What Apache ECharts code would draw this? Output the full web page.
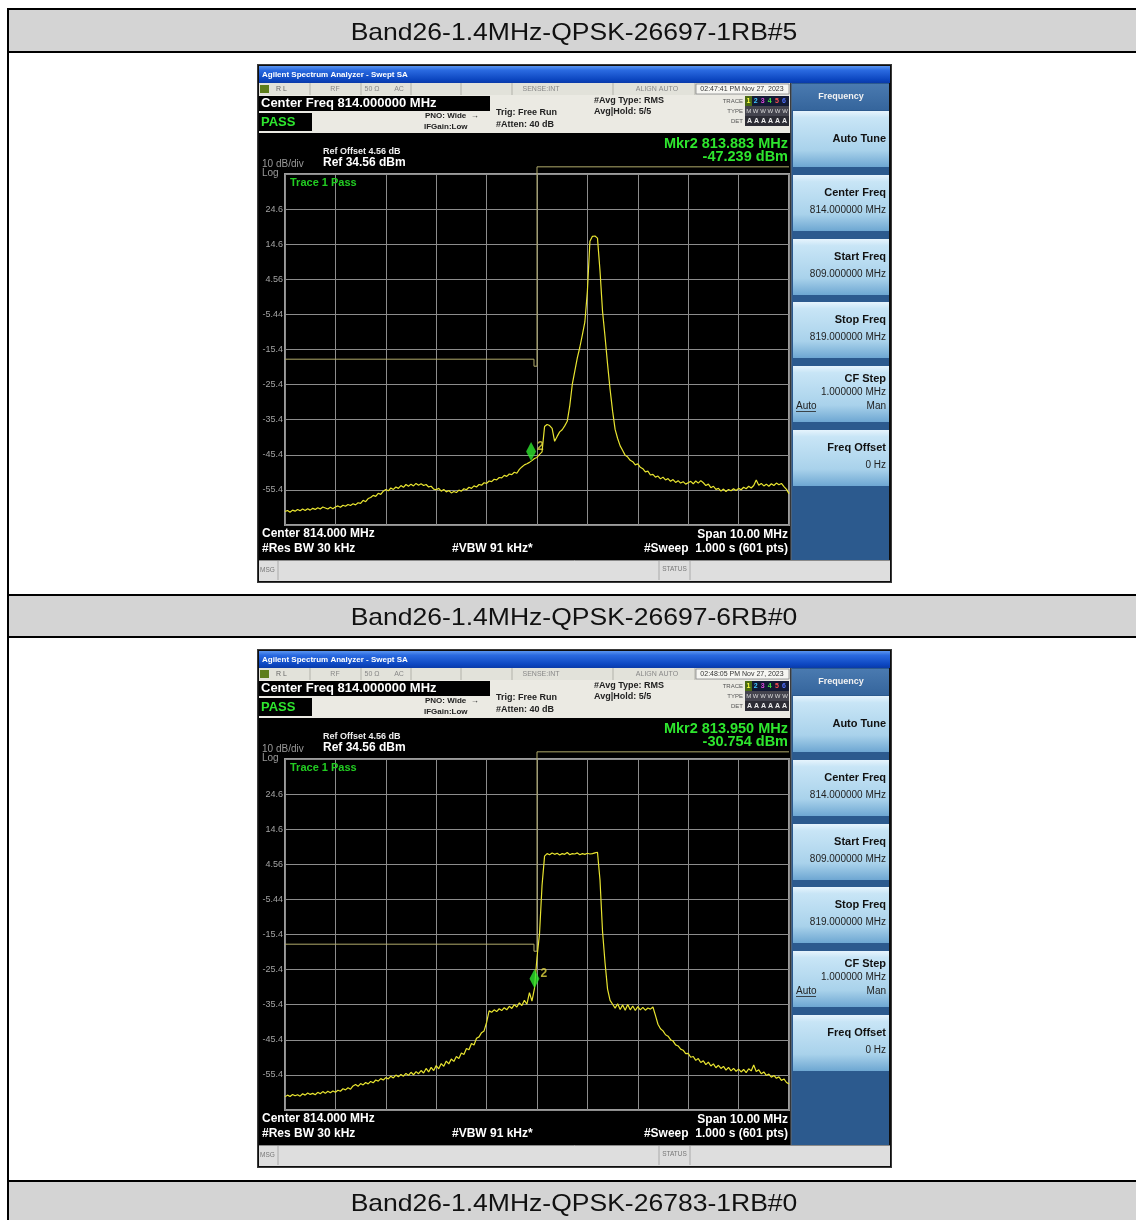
<!DOCTYPE html>
<html><head><meta charset="utf-8">
<script src="https://cdn.jsdelivr.net/npm/echarts@6/dist/echarts.min.js"></script>
<style>html,body{margin:0;padding:0;background:#fff}#c{width:1136px;height:1220px}</style>
</head><body><div id="c"></div>
<script>
// ---------------- DATA ----------------
const headerTitles = ['Band26-1.4MHz-QPSK-26697-1RB#5', 'Band26-1.4MHz-QPSK-26697-6RB#0', 'Band26-1.4MHz-QPSK-26783-1RB#0'];
const timestamps = ['02:47:41 PM Nov 27, 2023', '02:48:05 PM Nov 27, 2023'];
const markerFreqs = [813.883, 813.950];
const markerLevels = [-47.239, -30.754];
const markerFreqText = ['Mkr2 813.883 MHz', 'Mkr2 813.950 MHz'];
const markerLevelText = ['-47.239 dBm', '-30.754 dBm'];
const REF_LEVEL = 34.56;          // top of the screen (dBm)
const BOTTOM_LEVEL = -65.44;      // bottom of the screen (dBm), 10 dB/div
const SWEEP_START = 809, SWEEP_STEP = 0.05; // MHz, trace sample spacing
const limitFreq  = [809, 813.94, 813.94, 814.0, 814.0, 819];
const limitLevel = [-18.2, -18.2, -20.2, -20.2, 36.6, 36.6];

const trace1Levels = [
-61.6,-61.3,-61.8,-61.2,-61.5,-61.0,-61.4,-60.9,-61.3,-60.8,
-61.2,-60.7,-61.0,-60.5,-60.9,-60.3,-60.6,-60.9,-60.4,-60.8,
-60.3,-60.0,-60.4,-59.8,-60.1,-59.6,-59.9,-59.4,-59.7,-59.1,
-59.3,-58.4,-58.8,-57.9,-57.6,-57.0,-57.3,-56.4,-56.7,-55.8,
-55.3,-55.7,-54.9,-55.3,-54.6,-55.0,-54.2,-54.7,-53.9,-54.4,
-53.8,-54.3,-53.6,-54.1,-53.7,-54.2,-53.9,-54.6,-54.4,-55.2,
-55.4,-55.0,-55.8,-55.3,-56.0,-55.6,-56.3,-55.9,-56.2,-55.5,
-55.8,-55.1,-55.4,-54.7,-55.0,-54.3,-54.6,-53.9,-54.1,-53.4,
-53.6,-52.9,-53.1,-52.4,-52.6,-51.9,-52.0,-51.3,-51.6,-50.9,
-51.1,-50.4,-50.7,-49.6,-48.9,-48.3,-48.0,-47.6,-47.1,-46.5,
-46.2,-45.3,-44.6,-37.4,-36.8,-37.1,-37.9,-41.6,-40.2,-38.9,
-38.3,-37.2,-35.9,-31.5,-25.4,-21.6,-17.8,-14.8,-11.3,-7.6,
1.2,15.4,16.8,16.9,16.3,7.0,-4.5,-11.8,-19.6,-26.8,
-33.0,-38.2,-40.8,-42.9,-44.2,-45.6,-46.1,-47.0,-47.4,-48.3,
-48.0,-49.0,-49.4,-50.3,-50.1,-51.2,-51.0,-51.8,-51.5,-52.3,
-51.8,-52.6,-52.2,-53.0,-52.5,-53.3,-52.8,-53.5,-53.1,-53.8,
-53.4,-53.0,-53.7,-52.9,-53.5,-52.8,-53.4,-54.2,-53.8,-54.8,
-54.4,-55.3,-55.0,-55.8,-55.2,-55.9,-55.3,-55.7,-55.1,-55.6,
-55.0,-55.4,-54.7,-55.1,-54.4,-54.9,-54.2,-52.6,-54.1,-53.6,
-54.3,-53.8,-54.4,-53.7,-54.2,-53.5,-54.0,-53.6,-54.5,-55.3,
-56.5];

const trace2Levels = [
-61.7,-61.2,-61.6,-61.0,-61.4,-61.1,-61.5,-60.8,-61.2,-60.6,
-61.0,-60.7,-61.1,-60.4,-60.8,-60.2,-60.7,-60.1,-60.5,-60.0,
-60.4,-59.8,-60.1,-59.4,-59.7,-59.1,-59.5,-58.6,-58.2,-58.7,
-57.9,-58.3,-57.6,-58.0,-57.3,-57.7,-56.9,-57.2,-56.5,-56.9,
-56.2,-56.6,-55.8,-56.3,-55.5,-56.0,-55.3,-55.8,-55.0,-55.6,
-54.7,-55.4,-54.5,-55.1,-54.2,-54.9,-53.6,-54.6,-53.3,-54.2,
-52.8,-53.7,-52.2,-53.0,-51.5,-52.3,-50.9,-51.6,-50.2,-50.8,
-49.2,-49.6,-47.9,-48.3,-46.5,-46.9,-45.0,-44.6,-43.4,-42.9,
-40.5,-37.2,-37.6,-36.9,-37.4,-36.6,-37.1,-36.3,-36.9,-35.9,
-36.5,-35.4,-36.1,-34.9,-35.7,-34.2,-35.3,-32.0,-34.4,-30.8,
-22.0,-15.2,-1.5,6.9,7.6,7.3,7.8,7.4,7.7,7.2,
7.6,7.4,7.9,7.3,7.6,7.5,7.8,7.3,7.6,7.4,
7.7,7.5,7.6,7.8,8.0,0.1,-14.5,-23.5,-31.0,-34.2,
-35.3,-36.4,-35.2,-36.8,-35.5,-37.0,-35.4,-36.9,-35.8,-37.1,
-36.0,-36.9,-36.2,-37.0,-36.4,-36.7,-36.1,-38.5,-41.0,-42.3,
-42.9,-44.0,-44.4,-45.4,-45.8,-46.9,-47.2,-48.1,-48.4,-49.4,
-49.3,-50.4,-50.2,-51.3,-50.8,-51.9,-51.4,-52.5,-51.8,-52.9,
-52.3,-53.4,-52.7,-53.6,-53.0,-54.1,-53.3,-54.3,-53.6,-54.4,
-53.8,-54.6,-53.9,-54.8,-53.7,-54.3,-52.6,-54.5,-54.0,-55.1,
-54.6,-55.6,-55.2,-56.1,-55.6,-56.4,-56.0,-57.0,-56.6,-57.6,
-58.0];

const traces = [trace1Levels, trace2Levels];
const softkeys = [
  {title:'Auto Tune', top:111},
  {title:'Center Freq', value:'814.000000 MHz', top:175},
  {title:'Start Freq', value:'809.000000 MHz', top:239},
  {title:'Stop Freq', value:'819.000000 MHz', top:302},
  {title:'CF Step', value:'1.000000 MHz', top:366, auto:true},
  {title:'Freq Offset', value:'0 Hz', top:430}
];

// ---------------- HELPERS ----------------
const FF = '"Liberation Sans", Arial, sans-serif';
function R(x,y,w,h,fill,z,extra){return {type:'rect',silent:true,z:z==null?-5:z,shape:{x:x,y:y,width:w,height:h},style:Object.assign({fill:fill},extra||{})};}
function L(x1,y1,x2,y2,stroke,lw,z){return {type:'line',silent:true,z:z==null?-4:z,shape:{x1:x1,y1:y1,x2:x2,y2:y2},style:{stroke:stroke,lineWidth:lw||1}};}
function T(x,y,text,font,fill,align,z){align=align||'left';return {type:'text',silent:true,z:z==null?50:z,style:{text:text,x:x,y:y,font:font+' '+FF,fill:fill,align:align,textAlign:align,verticalAlign:'middle',textVerticalAlign:'middle'}};}
function grad(stops){return {type:'linear',x:0,y:0,x2:0,y2:1,colorStops:stops.map(s=>({offset:s[0],color:s[1]}))};}

const els = [];
// table
headerTitles.forEach((t,i)=>{
  const y0 = 10 + i*585.5;
  els.push(R(8, y0, 1128, 41, '#d4d4d4', -6));
  const tx = T(574, y0+23, t, '24px', '#111', 'center');
  tx.scaleX = 1.105; tx.originX = 574; tx.originY = y0+23;
  els.push(tx);
});
[9, 52, 595, 637, 1181].forEach(y=>els.push(L(7, y, 1136, y, '#000', 2, -3)));
els.push(L(8, 8, 8, 1220, '#000', 2, -3));

function shot(i){
  const d = i*585;
  const e = [];
  e.push(R(257,64+d,635,519,'#3a3a3a',-8));
  e.push(R(258,65+d,633,517,'#0e0e0e',-7));
  e.push(R(259,66+d,631,17,grad([[0,'#5a95f0'],[0.25,'#2a6ae0'],[0.8,'#0c46c0'],[1,'#0a3aa8']]),-6));
  e.push(T(262,74.5+d,'Agilent Spectrum Analyzer - Swept SA','bold 8px','#fff'));
  // status row
  e.push(R(259,83+d,531,12,'#e2e2da',-6));
  [310,361,411,461,512,613,695].forEach(x=>e.push(L(x,83+d,x,95+d,'#b2b2aa',1,-4)));
  e.push(R(260,85+d,9,8,'#5d7d1c',-4));
  e.push(T(276,89+d,'R L','7px','#666'));
  e.push(T(335,89+d,'RF','7px','#888','center'));
  e.push(T(372,89+d,'50 Ω','7px','#888','center'));
  e.push(T(399,89+d,'AC','7px','#888','center'));
  e.push(T(541,89+d,'SENSE:INT','7px','#888','center'));
  e.push(T(657,89+d,'ALIGN AUTO','7px','#888','center'));
  e.push(R(696,84+d,93,10,'#f6f6f2',-4,{stroke:'#888',lineWidth:0.8}));
  e.push(T(742,89+d,timestamps[i],'7px','#333','center'));
  // beige info band
  e.push(R(259,95+d,531,38,'#ebeae3',-6));
  e.push(R(259,96+d,231,15,'#000',-4));
  e.push(T(261,103.5+d,'Center Freq 814.000000 MHz','bold 13px','#fff'));
  e.push(R(259,113+d,53,18,'#000',-4));
  e.push(T(261,122+d,'PASS','bold 13px','#2ee62e'));
  e.push(T(425,116+d,'PNO: Wide  →','bold 8px','#222'));
  e.push(T(424,126.5+d,'IFGain:Low','bold 8px','#222'));
  e.push(T(496,112.5+d,'Trig: Free Run','bold 9px','#222'));
  e.push(T(496,125+d,'#Atten: 40 dB','bold 9px','#222'));
  e.push(T(594,100.5+d,'#Avg Type: RMS','bold 9px','#222'));
  e.push(T(594,111.5+d,'Avg|Hold: 5/5','bold 9px','#222'));
  e.push(T(743,101+d,'TRACE','6px','#555','right'));
  e.push(T(743,111+d,'TYPE','6px','#555','right'));
  e.push(T(743,121+d,'DET','6px','#555','right'));
  e.push(R(745,96+d,44,10,'#121a34',-4));
  e.push(R(745,96+d,7,10,'#4a6a14',-3));
  const tc = ['#ffff40','#40c8ff','#e048e0','#40e040','#ff5050','#5070ff'];
  tc.forEach((c,k)=>e.push(T(748.5+k*7.1,101+d,String(k+1),'bold 7px',c,'center')));
  e.push(R(745,106+d,44,10,'#44444e',-4));
  e.push(T(767,111+d,'M W W W W W','6px','#ddd','center'));
  e.push(R(745,116+d,44,10,'#2c2c34',-4));
  e.push(T(767,121+d,'A A A A A A','bold 7px','#eee','center'));
  // black screen
  e.push(R(259,133+d,532,427,'#000',-6));
  e.push(T(323,151.5+d,'Ref Offset 4.56 dB','bold 9px','#eee'));
  e.push(T(323,163+d,'Ref 34.56 dBm','bold 12px','#fff'));
  e.push(T(262,164+d,'10 dB/div','10px','#9a9a9a'));
  e.push(T(262,173+d,'Log','10px','#9a9a9a'));
  e.push(T(788,144+d,markerFreqText[i],'bold 14.5px','#2ee62e','right'));
  e.push(T(788,157+d,markerLevelText[i],'bold 14.5px','#2ee62e','right'));
  e.push(T(290,183+d,'Trace 1 Pass','bold 11px','#22cc22'));
  e.push(T(262,534+d,'Center 814.000 MHz','bold 12px','#fff'));
  e.push(T(262,549+d,'#Res BW 30 kHz','bold 12px','#fff'));
  e.push(T(452,549+d,'#VBW 91 kHz*','bold 12px','#fff'));
  e.push(T(788,535+d,'Span 10.00 MHz','bold 12px','#fff','right'));
  e.push(T(788,548.5+d,'#Sweep  1.000 s (601 pts)','bold 12px','#fff','right'));
  // status bar
  e.push(R(259,560+d,631,21,'#dedede',-6));
  e.push(L(259,560.5+d,890,560.5+d,'#8a8a8a',1));
  e.push(T(260,570+d,'MSG','6.5px','#777'));
  e.push(L(278,561+d,278,580+d,'#aaa',1));
  e.push(L(659,561+d,659,580+d,'#aaa',1));
  e.push(L(690,561+d,690,580+d,'#aaa',1));
  e.push(T(674.5,569.5+d,'STATUS','6.5px','#777','center'));
  // soft key panel
  e.push(R(791,83+d,98,477,'#2c5a8e',-6));
  e.push(L(791,83+d,791,560+d,'#6a6a6a',1));
  e.push(R(792,84+d,97,26,grad([[0,'#4a7ab0'],[1,'#35659c']]),-5));
  e.push(T(841,97+d,'Frequency','bold 9px','#f2f2f2','center'));
  softkeys.forEach(s=>{
    const t = s.top + d;
    e.push(R(793,t,96,56,grad([[0,'#e6f4fd'],[0.12,'#c8e5f6'],[0.7,'#a9d2eb'],[1,'#6ea7d2']]),-5));
    if (!s.value) {
      e.push(T(886,t+28,s.title,'bold 11px','#111','right'));
    } else if (s.auto) {
      e.push(T(886,t+13,s.title,'bold 11px','#111','right'));
      e.push(T(886,t+26,s.value,'10px','#222','right'));
      e.push(T(796,t+40,'Auto','10px','#222'));
      e.push(L(796,t+45.5,816,t+45.5,'#222',0.8,40));
      e.push(T(886,t+40,'Man','10px','#222','right'));
    } else {
      e.push(T(886,t+18,s.title,'bold 11px','#111','right'));
      e.push(T(886,t+35,s.value,'10px','#222','right'));
    }
  });
  return e;
}
els.push(...shot(0), ...shot(1));

// ---------------- CHART ----------------
const grids = [], xAxes = [], yAxes = [], series = [];
[0,1].forEach(i=>{
  grids.push({left:285, top:174 + i*585, width:504, height:351, show:true, borderColor:'#9c9c9c', borderWidth:2, backgroundColor:'transparent'});
  xAxes.push({type:'value', gridIndex:i, min:809, max:819, interval:1,
    axisLabel:{show:false}, axisTick:{show:false}, axisLine:{show:false},
    splitLine:{show:true, lineStyle:{color:'#8c8c8c', width:1}}});
  yAxes.push({type:'value', gridIndex:i, min:0, max:REF_LEVEL-BOTTOM_LEVEL, interval:10,
    axisTick:{show:false}, axisLine:{show:false},
    splitLine:{show:true, lineStyle:{color:'#8c8c8c', width:1}},
    axisLabel:{show:true, margin:2, fontSize:9, color:'#a4a4a4', fontFamily:'"Liberation Sans", Arial',
      showMinLabel:false, showMaxLabel:false,
      formatter: v => (v <= 0.001 || v >= 99.999) ? '' : String(Number((v + BOTTOM_LEVEL).toPrecision(3)))}});
  series.push({type:'line', xAxisIndex:i, yAxisIndex:i, clip:false, showSymbol:false, silent:true, z:3,
    lineStyle:{color:'#b0aa6a', width:1},
    data: limitFreq.map((f,k)=>[f, limitLevel[k]-BOTTOM_LEVEL])});
  series.push({type:'line', xAxisIndex:i, yAxisIndex:i, showSymbol:false, silent:true, z:4,
    lineStyle:{color:'#e8e430', width:1.2},
    data: traces[i].map((v,k)=>[SWEEP_START + k*SWEEP_STEP, v-BOTTOM_LEVEL])});
  series.push({type:'scatter', xAxisIndex:i, yAxisIndex:i, silent:true, z:6,
    symbol:'diamond', symbolSize:[10,19], symbolOffset:[0,'-50%'],
    itemStyle:{color:'#2ee62e'},
    label:{show:true, formatter:'2', position:'right', distance:1, offset:[0,-5], color:'#e4d840', fontSize:12, fontWeight:'bold'},
    data:[[markerFreqs[i], markerLevels[i]-BOTTOM_LEVEL]]});
});

const chart = echarts.init(document.getElementById('c'), null, {renderer:'canvas'});
chart.setOption({
  animation:false,
  backgroundColor:'#ffffff',
  grid:grids, xAxis:xAxes, yAxis:yAxes, series:series,
  graphic:{elements:els}
});
</script>
</body></html>
